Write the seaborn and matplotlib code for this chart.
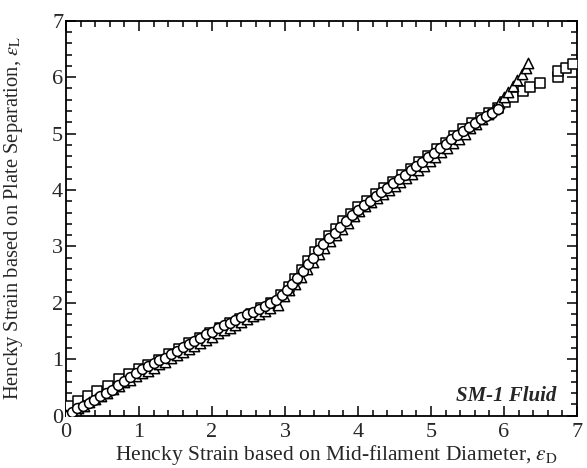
import matplotlib
matplotlib.use('Agg')
import matplotlib.pyplot as plt
import seaborn as sns
import pandas as pd
from matplotlib.ticker import MultipleLocator

# Data (eps_D, eps_L)
sq_x = [0.00, 0.05, 0.17, 0.30, 0.43, 0.57, 0.72, 0.86, 1.00, 1.13, 1.27, 1.41, 1.55, 1.69, 1.83,
        1.97, 2.11, 2.25, 2.39, 2.53, 2.67, 2.81, 2.95, 3.05, 3.14, 3.23, 3.32, 3.41, 3.50, 3.60,
        3.70, 3.80, 3.90, 4.00, 4.12, 4.24, 4.36, 4.48, 4.60, 4.72, 4.84, 4.96, 5.08, 5.20, 5.32,
        5.44, 5.56, 5.68, 5.80, 5.92, 6.02, 6.12, 6.26, 6.36, 6.49, 6.74, 6.74, 6.85, 6.95]
sq_y = [0.05, 0.17, 0.26, 0.34, 0.43, 0.53, 0.65, 0.74, 0.82, 0.90, 0.99, 1.09, 1.18, 1.28, 1.37,
        1.46, 1.56, 1.64, 1.72, 1.81, 1.90, 2.00, 2.13, 2.28, 2.43, 2.58, 2.74, 2.90, 3.05, 3.18,
        3.31, 3.45, 3.58, 3.70, 3.81, 3.92, 4.03, 4.14, 4.26, 4.38, 4.50, 4.61, 4.72, 4.84, 4.96,
        5.08, 5.18, 5.27, 5.37, 5.46, 5.56, 5.65, 5.76, 5.83, 5.90, 6.00, 6.10, 6.16, 6.24]

tri_x = [0.00, 0.08, 0.16, 0.24, 0.32, 0.40, 0.48, 0.56, 0.64, 0.72, 0.80, 0.88, 0.96, 1.04, 1.12,
         1.20, 1.28, 1.36, 1.44, 1.52, 1.60, 1.68, 1.76, 1.84, 1.92, 2.00, 2.08, 2.16, 2.24, 2.32,
         2.40, 2.48, 2.56, 2.64, 2.72, 2.80, 2.90, 2.98, 3.06, 3.14, 3.22, 3.30, 3.38, 3.46, 3.54,
         3.62, 3.70, 3.78, 3.86, 3.94, 4.02, 4.10, 4.18, 4.26, 4.34, 4.42, 4.50, 4.58, 4.66, 4.74,
         4.82, 4.90, 4.98, 5.06, 5.14, 5.22, 5.30, 5.38, 5.46, 5.54, 5.62, 5.70, 5.78, 5.86, 5.93,
         6.00, 6.06, 6.12, 6.18, 6.24, 6.30, 6.33]
tri_y = [0.02, 0.07, 0.13, 0.18, 0.24, 0.29, 0.35, 0.41, 0.47, 0.53, 0.59, 0.64, 0.70, 0.75, 0.80,
         0.85, 0.91, 0.96, 1.02, 1.07, 1.12, 1.18, 1.23, 1.29, 1.35, 1.40, 1.46, 1.51, 1.56, 1.61,
         1.66, 1.71, 1.76, 1.81, 1.86, 1.91, 1.96, 2.12, 2.22, 2.33, 2.46, 2.60, 2.73, 2.86, 2.98,
         3.09, 3.20, 3.31, 3.42, 3.53, 3.63, 3.71, 3.79, 3.86, 3.93, 4.00, 4.07, 4.14, 4.21, 4.29,
         4.36, 4.43, 4.51, 4.59, 4.67, 4.75, 4.83, 4.91, 5.00, 5.09, 5.17, 5.25, 5.34, 5.44, 5.54,
         5.64, 5.74, 5.85, 5.95, 6.06, 6.17, 6.25]

circ_x = [0.00, 0.08, 0.15, 0.23, 0.31, 0.39, 0.47, 0.55, 0.63, 0.71, 0.79, 0.88, 0.96, 1.04, 1.12,
          1.20, 1.28, 1.36, 1.44, 1.52, 1.60, 1.68, 1.76, 1.84, 1.92, 2.00, 2.08, 2.16, 2.24, 2.32,
          2.40, 2.48, 2.56, 2.64, 2.72, 2.80, 2.88, 2.96, 3.03, 3.10, 3.17, 3.24, 3.31, 3.38, 3.45,
          3.52, 3.60, 3.68, 3.76, 3.84, 3.92, 4.00, 4.08, 4.16, 4.24, 4.32, 4.40, 4.48, 4.56, 4.64,
          4.72, 4.80, 4.88, 4.96, 5.04, 5.12, 5.20, 5.28, 5.36, 5.44, 5.52, 5.60, 5.68, 5.76, 5.84,
          5.92]
circ_y = [0.00, 0.06, 0.13, 0.18, 0.23, 0.28, 0.34, 0.40, 0.46, 0.54, 0.61, 0.68, 0.76, 0.83, 0.88,
          0.93, 0.98, 1.03, 1.09, 1.15, 1.21, 1.27, 1.32, 1.38, 1.44, 1.49, 1.55, 1.60, 1.65, 1.70,
          1.75, 1.80, 1.84, 1.89, 1.94, 1.99, 2.05, 2.13, 2.22, 2.33, 2.44, 2.56, 2.68, 2.80, 2.93,
          3.04, 3.14, 3.24, 3.35, 3.45, 3.56, 3.65, 3.73, 3.81, 3.89, 3.96, 4.04, 4.12, 4.19, 4.27,
          4.35, 4.42, 4.50, 4.58, 4.66, 4.74, 4.82, 4.90, 4.98, 5.05, 5.12, 5.19, 5.25, 5.31, 5.37,
          5.43]

sns.set_style('ticks')
plt.rcParams['font.family'] = ['Liberation Serif', 'DejaVu Serif']
plt.rcParams['mathtext.fontset'] = 'stix'

fig = plt.figure(figsize=(5.87, 4.68), dpi=100)
ax = fig.add_axes([0.1124, 0.1118, 0.8706, 0.844])

squares = pd.DataFrame({'x': sq_x, 'y': sq_y})
triangles = pd.DataFrame({'x': tri_x, 'y': tri_y})
circles = pd.DataFrame({'x': circ_x, 'y': circ_y})

style = dict(facecolor='white', edgecolor='black', linewidth=1.1, legend=False, zorder=3)
sns.scatterplot(data=squares, x='x', y='y', marker='s', s=55, ax=ax, **style)
sns.scatterplot(data=triangles, x='x', y='y', marker='^', s=55, ax=ax, **style)
sns.scatterplot(data=circles, x='x', y='y', marker='o', s=50, ax=ax, **style)

ax.set_xlim(0, 7)
ax.set_ylim(0, 7)
ax.xaxis.set_major_locator(MultipleLocator(1))
ax.yaxis.set_major_locator(MultipleLocator(1))
ax.xaxis.set_minor_locator(MultipleLocator(0.2))
ax.yaxis.set_minor_locator(MultipleLocator(0.2))
ax.tick_params(which='both', direction='in', top=True, right=True, width=1.1, color='black')
ax.tick_params(which='major', length=7, labelsize=16, pad=2)
ax.tick_params(axis='x', which='major', pad=5)
ax.tick_params(which='minor', length=4)
for sp in ax.spines.values():
    sp.set_linewidth(1.3)
    sp.set_color('black')

ax.set_xlabel(r'Hencky Strain based on Mid-filament Diameter, $\varepsilon_{\mathrm{D}}$', fontsize=15.5)
ax.xaxis.set_label_coords(0.53, -0.07, transform=ax.transAxes)
ax.xaxis.label.set_verticalalignment('top')
ax.set_ylabel(r'Hencky Strain based on Plate Separation, $\varepsilon_{\mathrm{L}}$', fontsize=14.8)
ax.yaxis.set_label_coords(-0.08, 0.5, transform=ax.transAxes)

ax.text(6.72, 0.35, 'SM-1 Fluid', fontsize=15, fontstyle='italic', fontweight='bold', ha='right', va='center')

fig.savefig('out.png', dpi=100)
